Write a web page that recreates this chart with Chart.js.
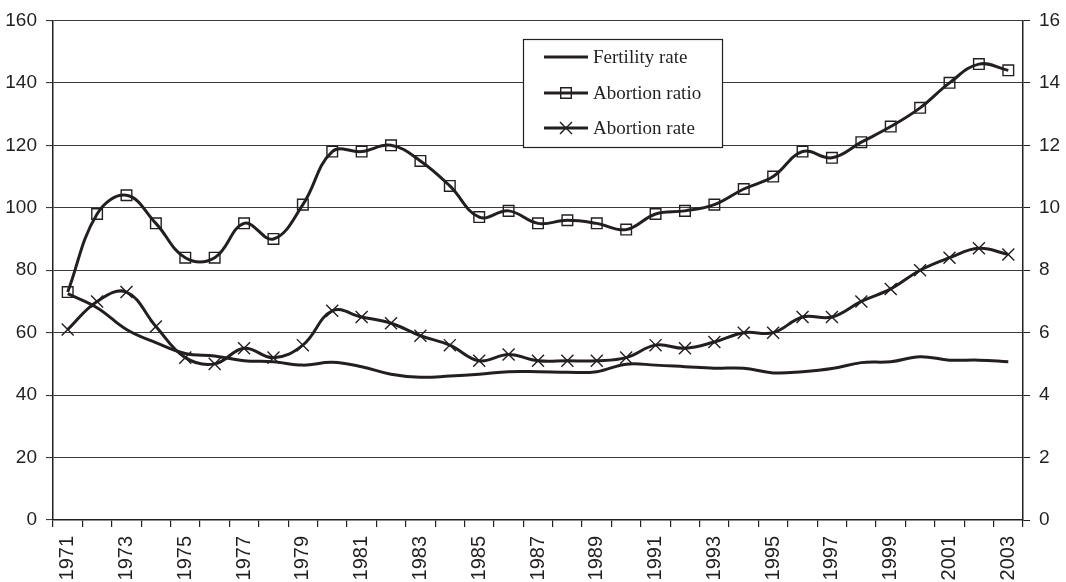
<!DOCTYPE html>
<html>
<head>
<meta charset="utf-8">
<script src="https://cdn.jsdelivr.net/npm/chart.js@4/dist/chart.umd.min.js"></script>
<style>
  html, body { margin: 0; padding: 0; background: #fff; }
  #wrap { width: 1066px; height: 582px; }
</style>
</head>
<body>
<div id="wrap"><canvas id="myChart" width="1066" height="582"></canvas></div>
<script>
const years = [];
for (var y = 1971; y <= 2003; y++) years.push(String(y));

// left axis (per 1000)
const fertilityRate = [72.5, 68, 61, 56.8, 53.3, 52.5, 51, 50.7, 49.6, 50.5, 49.1, 46.7, 45.7, 46.1, 46.7, 47.5,
  47.5, 47.3, 47.5, 49.9, 49.6, 49.1, 48.6, 48.6, 47.1, 47.5, 48.5, 50.4, 50.7, 52.3, 51.2, 51.2, 50.7];
const abortionRatio = [73, 98, 104, 95, 84, 84, 95, 90, 101, 118, 118, 120, 115, 107, 97, 99,
  95, 96, 95, 93, 98, 99, 101, 106, 110, 118, 116, 121, 126, 132, 140, 146, 144];
// right axis
const abortionRate = [6.1, 7.0, 7.3, 6.2, 5.2, 5.0, 5.5, 5.2, 5.6, 6.7, 6.5, 6.3, 5.9, 5.6, 5.1, 5.3,
  5.1, 5.1, 5.1, 5.2, 5.6, 5.5, 5.7, 6.0, 6.0, 6.5, 6.5, 7.0, 7.4, 8.0, 8.4, 8.7, 8.5];

const ink = "#231f20";
const gridCol = "#3a3a3a";

const legendBox = {
  id: "legendBox",
  afterDraw(chart) {
    const ctx = chart.ctx;
    const x0 = 523, y0 = 39, x1 = 722, y1 = 147;
    const rows = [57, 93, 128];
    ctx.save();
    ctx.fillStyle = "#fff";
    ctx.fillRect(x0, y0, x1 - x0, y1 - y0);
    ctx.strokeStyle = ink;
    ctx.lineWidth = 1.2;
    ctx.strokeRect(x0 + 0.5, y0 + 0.5, x1 - x0, y1 - y0);
    chart.data.datasets.forEach(function (ds, i) {
      const ry = rows[i];
      ctx.strokeStyle = ink;
      ctx.lineWidth = 3;
      ctx.beginPath();
      ctx.moveTo(544, ry);
      ctx.lineTo(588, ry);
      ctx.stroke();
      if (ds.pointStyle && ds.pointRadius > 0) {
        ctx.lineWidth = ds.pointBorderWidth;
        ctx.fillStyle = "rgba(255,255,255,0)";
        Chart.helpers.drawPoint(ctx, { pointStyle: ds.pointStyle, radius: ds.pointRadius, borderWidth: ds.pointBorderWidth }, 566, ry);
      }
      ctx.fillStyle = ink;
      ctx.font = "19px 'Liberation Serif', 'DejaVu Serif', serif";
      ctx.textBaseline = "middle";
      ctx.textAlign = "left";
      ctx.fillText(ds.label, 593, ry + 1);
    });
    ctx.restore();
  },
};

const data = {
  labels: years,
  datasets: [
    {
      label: "Fertility rate",
      data: fertilityRate,
      yAxisID: "y",
      borderColor: ink,
      borderWidth: 3,
      pointRadius: 0,
      pointHoverRadius: 0,
      tension: 0.4,
    },
    {
      label: "Abortion ratio",
      data: abortionRatio,
      yAxisID: "y",
      borderColor: ink,
      borderWidth: 3,
      pointStyle: "rect",
      pointRadius: 7.5,
      pointBorderWidth: 1.4,
      pointBorderColor: ink,
      pointBackgroundColor: "rgba(255,255,255,0)",
      tension: 0.4,
    },
    {
      label: "Abortion rate",
      data: abortionRate,
      yAxisID: "y1",
      borderColor: ink,
      borderWidth: 3,
      pointStyle: "crossRot",
      pointRadius: 8.5,
      pointBorderWidth: 1.4,
      pointBorderColor: ink,
      tension: 0.4,
    },
  ],
};

const tickFont = { family: "'Liberation Sans', Arial, sans-serif", size: 19 };

const config = {
  type: "line",
  data: data,
  options: {
    responsive: false,
    animation: false,
    layout: { padding: { top: 10, right: 0, left: 0, bottom: 0 } },
    plugins: { legend: { display: false }, tooltip: { enabled: false } },
    scales: {
      x: {
        offset: true,
        grid: { drawOnChartArea: false, offset: true, tickLength: 7, color: ink, lineWidth: 1.2 },
        border: { display: true, color: ink, width: 1.5 },
        ticks: {
          autoSkip: false,
          maxRotation: 90,
          minRotation: 90,
          padding: 9,
          color: ink,
          font: { family: "'Liberation Sans', Arial, sans-serif", size: 20 },
          callback: function (val, i) {
            return i % 2 === 0 ? this.getLabelForValue(val) : "";
          },
        },
        afterFit: function (scale) { scale.height = 62; },
      },
      y: {
        position: "left",
        min: 0,
        max: 160,
        ticks: { stepSize: 20, color: ink, font: tickFont, padding: 9 },
        grid: { color: gridCol, lineWidth: 1.1, tickLength: 7 },
        border: { display: true, color: ink, width: 1.5 },
        afterFit: function (scale) { scale.width = 53; },
      },
      y1: {
        position: "right",
        min: 0,
        max: 16,
        ticks: { stepSize: 2, color: ink, font: tickFont, padding: 9 },
        grid: { drawOnChartArea: false, color: ink, tickLength: 7 },
        border: { display: true, color: ink, width: 1.5 },
        afterFit: function (scale) { scale.width = 43; },
      },
    },
  },
  plugins: [legendBox],
};

var myChart = new Chart(document.getElementById("myChart"), config);
</script>
</body>
</html>
